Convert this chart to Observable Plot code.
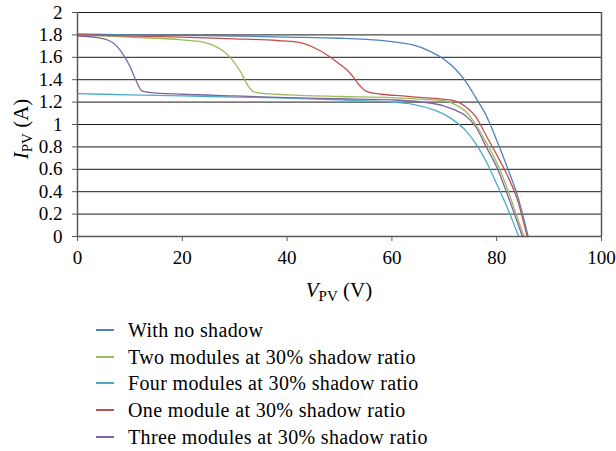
<!DOCTYPE html>
<html>
<head>
<meta charset="utf-8">
<script src="https://cdn.jsdelivr.net/npm/d3@7"></script>
<script src="https://cdn.jsdelivr.net/npm/@observablehq/plot@0.6"></script>
<style>
  body { margin: 0; background: #fff; font-family: "Liberation Serif", serif; }
  #chart { position: relative; width: 616px; height: 451px; }
  .legend .row { position: absolute; left: 96px; display: flex; align-items: center; height: 26px; font-size: 20px; letter-spacing: 0.35px; color: #000; white-space: nowrap; }
  .legend .sw { display: inline-block; width: 18px; height: 2px; margin-right: 14px; }
</style>
</head>
<body>
<div id="chart"></div>
<script>
// Series labels and colours (legend order)
const seriesNames = [
  "With no shadow",
  "Two modules at 30% shadow ratio",
  "Four modules at 30% shadow ratio",
  "One module at 30% shadow ratio",
  "Three modules at 30% shadow ratio"
];
const seriesColors = ["#4F81BD", "#9BBB59", "#4BACC6", "#C0504D", "#8064A2"];

// Axis ticks
const xTicks = [0, 20, 40, 60, 80, 100];
const yTicks = [0, 0.2, 0.4, 0.6, 0.8, 1, 1.2, 1.4, 1.6, 1.8, 2];

// I–V curves: voltage (V) and current (A)
const vNoShadow = [0, 10, 20, 30, 40, 50, 55, 60, 64, 67, 70, 72, 74, 76, 78, 80, 82, 84, 86];
const iNoShadow = [1.81, 1.80, 1.795, 1.79, 1.78, 1.77, 1.76, 1.74, 1.71, 1.66, 1.58, 1.50, 1.39, 1.24, 1.08, 0.86, 0.62, 0.36, 0];

const vTwo = [0, 10, 20, 24, 26, 28, 29.5, 31, 32.5, 33.5, 35, 40, 50, 60, 66, 70, 72, 74, 76, 78, 80, 82, 84, 85.2];
const iTwo = [1.80, 1.78, 1.755, 1.735, 1.705, 1.65, 1.58, 1.48, 1.35, 1.295, 1.28, 1.265, 1.25, 1.24, 1.225, 1.21, 1.18, 1.12, 1.00, 0.84, 0.66, 0.43, 0.16, 0];

const vFour = [0, 10, 20, 30, 40, 50, 60, 64, 68, 70, 72, 74, 76, 78, 80, 82, 84.2];
const iFour = [1.275, 1.265, 1.255, 1.245, 1.235, 1.22, 1.20, 1.18, 1.13, 1.09, 1.03, 0.95, 0.83, 0.67, 0.47, 0.26, 0];

const vOne = [0, 10, 20, 30, 38, 42, 45, 48, 50, 52, 53, 54, 55, 56, 58, 62, 66, 70, 72, 74, 76, 78, 80, 82, 84, 85.8];
const iOne = [1.80, 1.79, 1.78, 1.765, 1.75, 1.735, 1.69, 1.61, 1.54, 1.46, 1.40, 1.34, 1.30, 1.285, 1.27, 1.255, 1.24, 1.225, 1.21, 1.16, 1.07, 0.90, 0.73, 0.55, 0.32, 0];

const vThree = [0, 4, 6, 7.5, 8.8, 10, 11.2, 12.3, 14, 20, 30, 40, 50, 60, 66, 70, 72, 74, 76, 78, 80, 82, 84, 84.9];
const iThree = [1.79, 1.775, 1.75, 1.70, 1.62, 1.52, 1.39, 1.30, 1.285, 1.27, 1.255, 1.24, 1.23, 1.22, 1.20, 1.165, 1.13, 1.08, 0.98, 0.80, 0.62, 0.38, 0.12, 0];

const curves = [
  [vNoShadow, iNoShadow],
  [vTwo, iTwo],
  [vFour, iFour],
  [vOne, iOne],
  [vThree, iThree]
];

// Long-format rows for Plot
const rows = curves.flatMap(([vs, is], k) =>
  vs.map((v, j) => ({ series: seriesNames[k], v, i: is[j] }))
);

const axisGrey = "#595959";

const chart = Plot.plot({
  width: 616,
  height: 310,
  marginLeft: 77,
  marginRight: 15,
  marginTop: 12,
  marginBottom: 74,
  style: { fontFamily: "'Liberation Serif', serif", fontSize: "19px", color: "#000", background: "#fff" },
  x: { domain: [0, 100] },
  y: { domain: [0, 2] },
  color: { domain: seriesNames, range: seriesColors },
  marks: [
    Plot.gridY(yTicks, { stroke: "#1a1a1a", strokeOpacity: 1, strokeWidth: 1 }),
    Plot.line(rows, { x: "v", y: "i", z: "series", stroke: "series", strokeWidth: 1.3, curve: "monotone-x" }),
    Plot.ruleY([0], { stroke: axisGrey, strokeWidth: 1.5 }),
    Plot.ruleX([0], { stroke: axisGrey, strokeWidth: 1.5 }),
    Plot.ruleX([100], { stroke: axisGrey, strokeWidth: 1.5 }),
    Plot.axisX(xTicks, { tickSize: 5, tickPadding: 9, label: null, stroke: axisGrey, fill: "#000" }),
    Plot.axisY(yTicks, { tickSize: 5, tickPadding: 10, label: null, stroke: axisGrey, fill: "#000", tickFormat: d => String(d) })
  ]
});

// Axis titles with subscripts
const svg = d3.select(chart);
const xTitle = svg.append("text")
  .attr("x", 339).attr("y", 297)
  .attr("text-anchor", "middle")
  .style("font-size", "21px").attr("fill", "#000");
xTitle.append("tspan").attr("font-style", "italic").text("V");
xTitle.append("tspan").attr("dy", 4).style("font-size", "15px").text("PV");
xTitle.append("tspan").attr("dy", -4).text(" (V)");

const yTitle = svg.append("text")
  .attr("transform", "translate(28,129) rotate(-90)")
  .attr("text-anchor", "middle")
  .style("font-size", "21px").attr("fill", "#000");
yTitle.append("tspan").attr("font-style", "italic").text("I");
yTitle.append("tspan").attr("dy", 4).style("font-size", "15px").text("PV");
yTitle.append("tspan").attr("dy", -4).text(" (A)");

const host = document.getElementById("chart");
host.appendChild(chart);

// Legend below the plot, one row per series on whole-pixel positions
const legend = d3.select(host).append("div").attr("class", "legend");
seriesNames.forEach((name, k) => {
  const row = legend.append("div").attr("class", "row")
    .style("top", `${Math.round(317 + 26.7 * k)}px`);
  row.append("span").attr("class", "sw").style("background", seriesColors[k]);
  row.append("span").text(name);
});
</script>
</body>
</html>
